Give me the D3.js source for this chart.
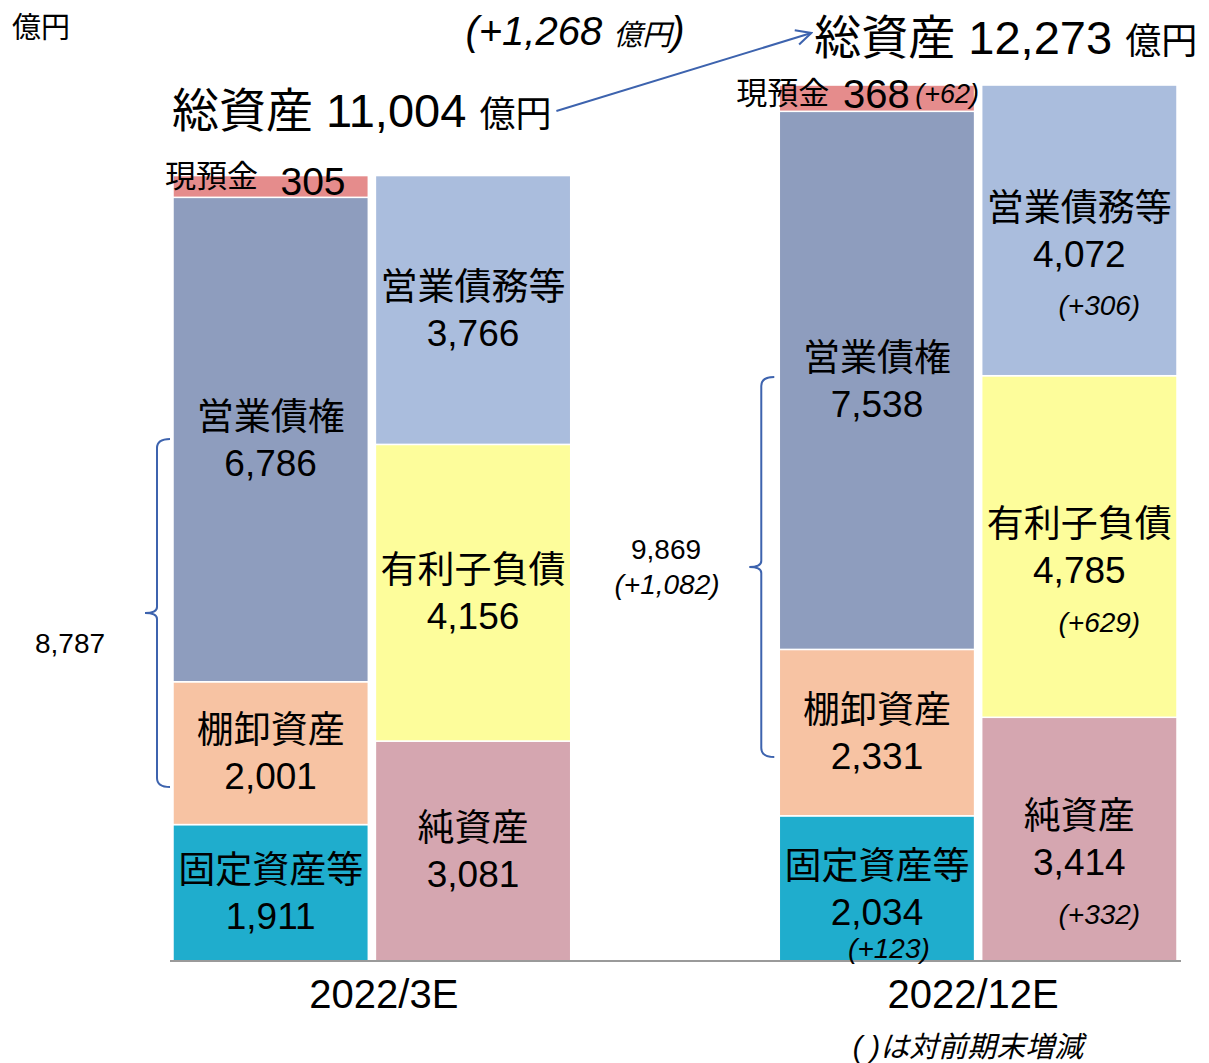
<!DOCTYPE html>
<html><head><meta charset="utf-8">
<script src="https://cdn.jsdelivr.net/npm/d3@7/dist/d3.min.js"></script>
<style>
html,body{margin:0;padding:0;background:#fff;}
svg{display:block;}
text{font-family:'Liberation Sans',Arial,'Noto Sans CJK JP',sans-serif;fill:#000;}
</style></head>
<body>
<svg id="chart" width="1209" height="1063"></svg>
<script>
// ---------- data ----------
const categories = ["2022/3E", "2022/12E"];
const sides = ["assets", "liabilities"];
const assetItems = ["固定資産等", "棚卸資産", "営業債権", "現預金"];
const liabItems = ["純資産", "有利子負債", "営業債務等"];
const assets3E = [1911, 2001, 6786, 305];
const assets12E = [2034, 2331, 7538, 368];
const liab3E = [3081, 4156, 3766];
const liab12E = [3414, 4785, 4072];
const assetChange12E = [123, null, null, 62];
const liabChange12E = [332, 629, 306];
const totalAssets = [11004, 12273];
const totalChange = 1268;
const workingCapital = [8787, 9869];
const workingCapitalChange = 1082;

const assetColors = ["#1FADCD", "#F7C3A3", "#8E9DBE", "#E58C8C"];
const liabColors = ["#D5A6B0", "#FDFD9B", "#AABDDD"];

const fmt = d3.format(",");
const sgn = v => "(+" + fmt(v) + ")";

// ---------- scales ----------
const svg = d3.select("#chart");
const baseY = 961;
const y = d3.scaleLinear().domain([0, 13000]).range([baseY, 33]);
const x0 = d3.scaleBand().domain(categories).range([173, 1177]).paddingInner(0.344).paddingOuter(0);
const x1 = d3.scaleBand().domain(sides).range([0, x0.bandwidth()]).paddingInner(0.035);

// build segments
const assetSets = [assets3E, assets12E];
const liabSets = [liab3E, liab12E];
const segs = [];
categories.forEach((c, ci) => {
  let acc = 0;
  assetSets[ci].forEach((v, i) => {
    segs.push({cat: c, ci, side: "assets", name: assetItems[i], v, y0: acc, y1: acc + v,
      color: assetColors[i], change: ci === 1 ? assetChange12E[i] : null, idx: i});
    acc += v;
  });
  acc = 0;
  liabSets[ci].forEach((v, i) => {
    segs.push({cat: c, ci, side: "liabilities", name: liabItems[i], v, y0: acc, y1: acc + v,
      color: liabColors[i], change: ci === 1 ? liabChange12E[i] : null, idx: i});
    acc += v;
  });
});

const bx = d => x0(d.cat) + x1(d.side);

svg.append("g").selectAll("rect").data(segs).join("rect")
  .attr("x", bx)
  .attr("y", d => y(d.y1))
  .attr("width", x1.bandwidth())
  .attr("height", d => y(d.y0) - y(d.y1))
  .attr("fill", d => d.color)
  .attr("stroke", "#fff").attr("stroke-width", 1.5);

// baseline
svg.append("line").attr("x1", 170).attr("x2", 1181).attr("y1", baseY).attr("y2", baseY)
  .attr("stroke", "#9a9a9a").attr("stroke-width", 2);

// category axis
const ax = svg.append("g").attr("transform", `translate(0,${baseY})`)
  .call(d3.axisBottom(x0).tickSize(0).tickPadding(19));
ax.select(".domain").remove();
ax.selectAll("text").attr("font-size", 40).style("font-family", "'Liberation Sans',Arial,sans-serif").attr("fill", "#000");
ax.selectAll(".tick").filter(d => d === categories[0]).select("text").attr("dx", 12);
ax.selectAll(".tick").filter(d => d === categories[1]).select("text").attr("dx", -5);

// labels inside segments (except cash)
const inner = segs.filter(d => d.name !== "現預金");
const lg = svg.append("g").attr("text-anchor", "middle");
inner.forEach(d => {
  const cx = bx(d) + x1.bandwidth() / 2;
  const mid = (y(d.y0) + y(d.y1)) / 2;
  lg.append("text").attr("x", cx).attr("y", mid - 23).attr("dy", "0.36em").attr("font-size", 37).text(d.name);
  lg.append("text").attr("x", cx).attr("y", mid + 23).attr("dy", "0.36em").attr("font-size", 37).text(fmt(d.v));
  if (d.change != null) {
    const isFixed = d.side === "assets";
    lg.append("text").attr("x", cx + (isFixed ? 12 : 20)).attr("y", mid + 23 + (isFixed ? 37 : 52))
      .attr("dy", "0.36em").attr("font-size", 28).attr("font-style", "italic").text(sgn(d.change));
  }
});

// cash labels
segs.filter(d => d.name === "現預金").forEach(d => {
  const left = bx(d);
  const top = y(d.y1);
  const g = svg.append("g");
  if (d.ci === 0) {
    g.append("text").attr("x", left - 8).attr("y", top + 0).attr("dy", "0.36em").attr("font-size", 31).text(d.name);
    g.append("text").attr("x", left + 140).attr("y", top + 5).attr("dy", "0.36em").attr("font-size", 39)
      .attr("text-anchor", "middle").text(fmt(d.v));
  } else {
    g.append("text").attr("x", left - 43).attr("y", top + 8).attr("dy", "0.36em").attr("font-size", 31).text(d.name);
    g.append("text").attr("x", left + 97).attr("y", top + 9).attr("dy", "0.36em").attr("font-size", 40)
      .attr("text-anchor", "middle").text(fmt(d.v));
    g.append("text").attr("x", left + 136).attr("y", top + 8).attr("dy", "0.36em").attr("font-size", 27)
      .attr("font-style", "italic").text(sgn(d.change));
  }
});

// total asset titles
const titleCy = [110, 37];
const titleNodes = [];
categories.forEach((c, ci) => {
  const tx = ci === 0 ? x0(c) - 1 : x0(c) + 35;
  const t = svg.append("text").attr("x", tx).attr("y", titleCy[ci]).attr("font-size", 47).attr("dy", "0.36em");
  t.append("tspan").attr("font-size", 47).text("総資産 " + fmt(totalAssets[ci]) + " ");
  t.append("tspan").attr("font-size", 36).text("億円");
  titleNodes.push({node: t.node(), cy: titleCy[ci]});
});

// arrow between titles
const b0 = titleNodes[0].node.getBBox();
const b1 = titleNodes[1].node.getBBox();
svg.append("defs").append("marker").attr("id", "arr").attr("viewBox", "0 0 12 12")
  .attr("refX", 11).attr("refY", 6).attr("markerWidth", 9).attr("markerHeight", 9)
  .attr("markerUnits", "strokeWidth").attr("orient", "auto")
  .append("path").attr("d", "M1,1 L11,6 L1,11").attr("fill", "none").attr("stroke", "#3D63AE").attr("stroke-width", 1.4);
svg.append("line")
  .attr("x1", b0.x + b0.width + 5).attr("y1", titleNodes[0].cy + 1)
  .attr("x2", b1.x - 3).attr("y2", titleNodes[1].cy - 4)
  .attr("stroke", "#3D63AE").attr("stroke-width", 2).attr("marker-end", "url(#arr)");

// total change label
const tc = svg.append("text").attr("x", 575).attr("y", 31).attr("font-size", 40).attr("dy", "0.36em")
  .attr("text-anchor", "middle").attr("font-style", "italic");
tc.append("tspan").attr("font-size", 40).text("(+" + fmt(totalChange) + " ");
tc.append("tspan").attr("font-size", 29).text("億円");
tc.append("tspan").attr("font-size", 40).text(")");

// unit label
svg.append("text").attr("x", 12).attr("y", 28).attr("dy", "0.36em").attr("font-size", 29).text("億円");

// braces for working capital
function brace(xb, yt, yb) {
  const ym = (yt + yb) / 2, xt = xb - 12;
  return `M${xb + 13},${yt} Q${xb},${yt} ${xb},${yt + 9} L${xb},${ym - 6} Q${xb},${ym} ${xt},${ym}` +
         ` Q${xb},${ym} ${xb},${ym + 6} L${xb},${yb - 9} Q${xb},${yb} ${xb + 13},${yb}`;
}
const braceSpan = [[7313, 2438], [8182, 2858]];
categories.forEach((c, ci) => {
  const xb = x0(c) - (ci === 0 ? 16 : 18);
  const yt = y(braceSpan[ci][0]), yb = y(braceSpan[ci][1]);
  svg.append("path").attr("d", brace(xb, yt, yb)).attr("fill", "none")
    .attr("stroke", "#3D63AE").attr("stroke-width", 2);
  const ym = (yt + yb) / 2;
  if (ci === 0) {
    svg.append("text").attr("x", 70).attr("y", ym + 30).attr("dy", "0.36em").attr("text-anchor", "middle")
      .attr("font-size", 28).text(fmt(workingCapital[ci]));
  } else {
    svg.append("text").attr("x", 666).attr("y", ym - 18).attr("dy", "0.36em").attr("text-anchor", "middle")
      .attr("font-size", 28).text(fmt(workingCapital[ci]));
    svg.append("text").attr("x", 667).attr("y", ym + 17).attr("dy", "0.36em").attr("text-anchor", "middle")
      .attr("font-size", 28).attr("font-style", "italic").text(sgn(workingCapitalChange));
  }
});

// footnote
svg.append("text").attr("x", 968).attr("y", 1047).attr("dy", "0.36em").attr("text-anchor", "middle")
  .attr("font-size", 29).attr("font-style", "italic").text("( )は対前期末増減");
</script>
</body></html>
